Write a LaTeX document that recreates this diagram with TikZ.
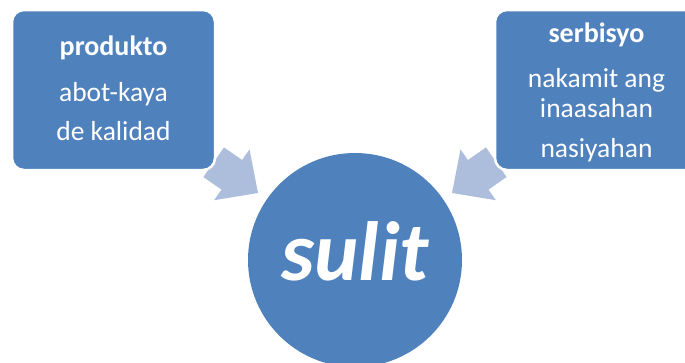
\documentclass[tikz,border=0pt]{standalone}
\usepackage{fontspec}
\setmainfont{Carlito}
\definecolor{boxblue}{RGB}{79,129,189}
\definecolor{arrowblue}{RGB}{172,190,220}
\begin{document}
\begin{tikzpicture}[x=1pt,y=-1pt,
  box/.style={fill=boxblue,draw=white,line width=2.5pt,rounded corners=12pt},
  blockarrow/.style={fill=arrowblue,draw=none},
  txt/.style={text=white,inner sep=0pt,anchor=base,font=\fontsize{27.5}{28}\selectfont},
  ttl/.style={txt,font=\fontsize{28}{28}\selectfont\bfseries}]
\useasboundingbox (0,0) rectangle (685,362);
\clip (0,0) rectangle (685,362);
\fill[white] (0,0) rectangle (685,362);
% arrows
\fill[blockarrow] (203.4,177.0) -- (221.5,189.6) -- (214.1,200.2) -- (258,193) -- (249.5,149.4) -- (242.1,160.0) -- (224.0,147.4) -- cycle;
\fill[blockarrow] (506.6,177.0) -- (488.5,189.6) -- (495.9,200.2) -- (452,193) -- (460.5,149.4) -- (467.9,160.0) -- (486.0,147.4) -- cycle;
% boxes
\draw[box] (12,10) rectangle (215,170);
\draw[box] (495,10) rectangle (698,170);
\node[ttl] (p1) at (113.5,55) {produkto};
\node[txt] (p2) at (113.5,101) {abot-kaya};
\node[txt] (p3) at (113.5,140) {de kalidad};
\node[ttl] (s1) at (596.5,42) {serbisyo};
\node[txt] (s2) at (596.5,87) {nakamit ang};
\node[txt] (s3) at (596.5,117) {inaasahan};
\node[txt] (s4) at (596.5,157) {nasiyahan};
% circle
\node[circle,fill=boxblue,minimum size=214pt,inner sep=0pt] (c) at (355,260) {};
\node[text=white,inner sep=0pt,anchor=base,font=\fontsize{84}{84}\selectfont\bfseries\itshape] (sulit) at (355,280) {sulit};
\end{tikzpicture}
\end{document}
